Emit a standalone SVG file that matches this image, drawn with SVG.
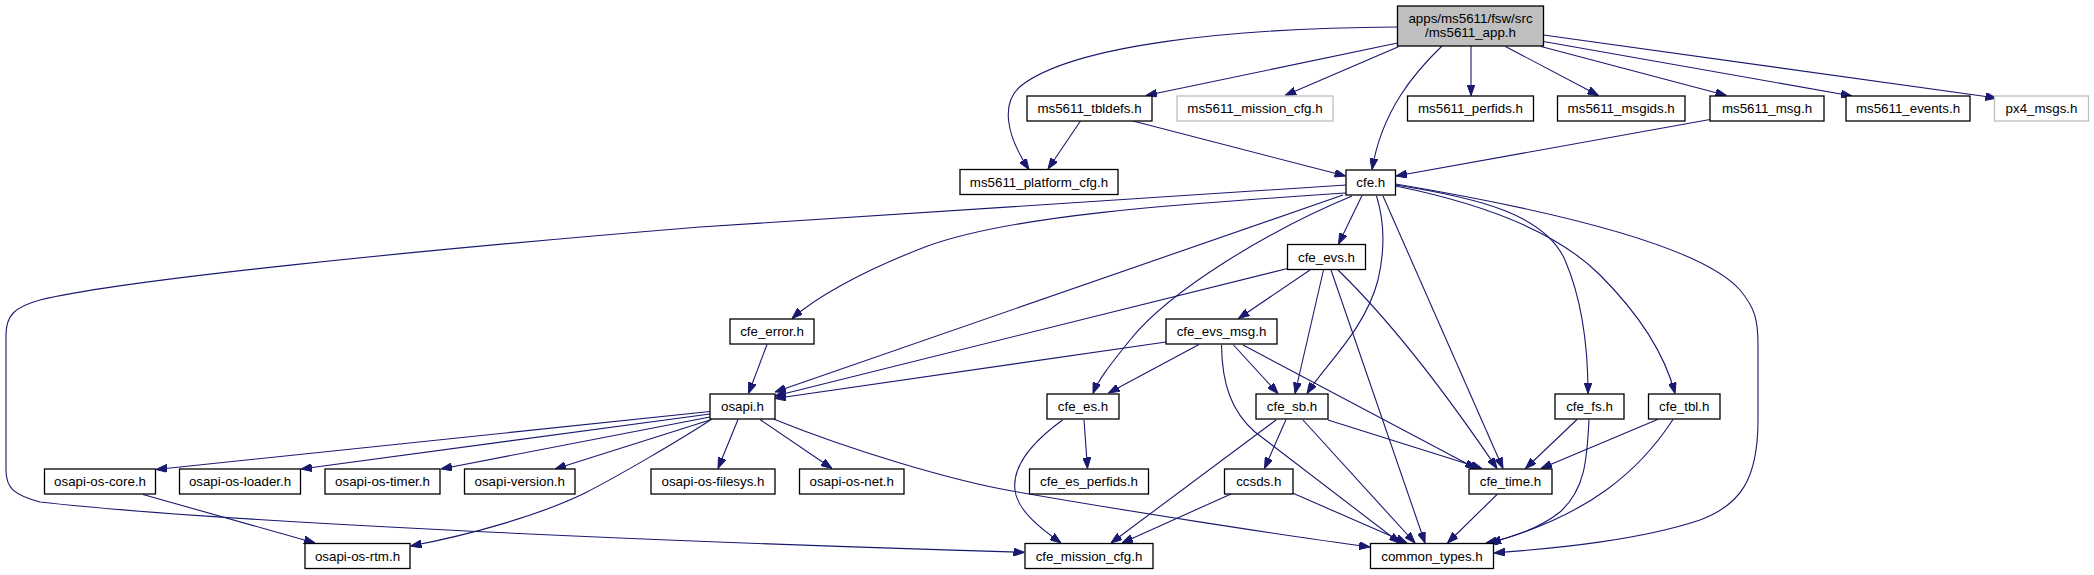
<svg xmlns="http://www.w3.org/2000/svg" width="2094" height="575" viewBox="0 0 2094 575">
<style>
.e{fill:none;stroke:#191970;stroke-width:1.1;marker-end:url(#ah)}
.n rect{fill:#fff;stroke:#000;stroke-width:1.3}
.g rect{fill:#fff;stroke:#bfbfbf;stroke-width:1.3}
.r rect{fill:#bfbfbf;stroke:#000;stroke-width:1.3}
text{font-family:"Liberation Sans",Arial,Helvetica,sans-serif;font-size:13.33px;text-anchor:middle;fill:#000}
</style>
<defs>
<marker id="ah" viewBox="0 0 11 8" refX="11" refY="4" markerWidth="11" markerHeight="8" orient="auto" markerUnits="userSpaceOnUse"><path d="M0,0 L11,4 L0,8 z" fill="#191970" stroke="#191970" stroke-width="1"/></marker>
</defs>
<rect width="2094" height="575" fill="#fff"/>
<g id="edges">
<path class="e" d="M1397.5,27 C1230,28 1075,45 1022,85 C1000,102 1006,135 1029,169.5"/>
<path class="e" d="M1397.5,43 L1146,95.5"/>
<path class="e" d="M1399,46.5 L1285,95.5"/>
<path class="e" d="M1442,46 C1415,72 1382,110 1372,169.5"/>
<path class="e" d="M1471,46 L1471,95.5"/>
<path class="e" d="M1505.5,46.5 L1598.5,95.5"/>
<path class="e" d="M1541,46.5 L1726.5,95.5"/>
<path class="e" d="M1543.5,41.5 L1852,96"/>
<path class="e" d="M1543.5,35 L1996.5,98"/>
<path class="e" d="M1080.5,121 L1048,169"/>
<path class="e" d="M1133,121 L1345.5,176"/>
<path class="e" d="M1710,119.5 L1396,176"/>
<path class="e" d="M1346,185 L700,227 C420,250 120,280 40,300 C14,307 6,316 6,335 L6,470 C6,488 14,495 40,502 C200,520 600,540 1024.5,552.3"/>
<path class="e" d="M1346,193 C1180,204 1010,215 925,247 C860,272 815,298 792,318.5"/>
<path class="e" d="M1343,195 L775,392"/>
<path class="e" d="M1362,195.5 L1338.5,244"/>
<path class="e" d="M1352,196 C1270,230 1170,290 1130,340 C1110,365 1098,380 1093,393.5"/>
<path class="e" d="M1376.5,196 C1384,220 1385,250 1378,280 C1365,330 1325,365 1307,393.5"/>
<path class="e" d="M1383,196 L1503,468.5"/>
<path class="e" d="M1395.5,185 C1480,198 1545,215 1565,260 C1580,295 1588,340 1588,393.5"/>
<path class="e" d="M1395.5,186 C1490,205 1560,235 1600,275 C1640,315 1665,355 1675,393.5"/>
<path class="e" d="M1395.5,184 C1550,210 1700,245 1740,290 C1755,308 1758,320 1758,345 L1758,420 C1758,480 1740,505 1700,520 C1640,540 1560,548 1494,553"/>
<path class="e" d="M1310,270 L1238.5,318.5"/>
<path class="e" d="M1287.5,268.5 L775,396"/>
<path class="e" d="M1323.5,270 L1295,393.5"/>
<path class="e" d="M1331,270 L1425,543"/>
<path class="e" d="M1338,270 Q1410,340 1497,468.5"/>
<path class="e" d="M1166,342 L775,398.5"/>
<path class="e" d="M1199,344.5 L1108.5,393"/>
<path class="e" d="M1233.5,345 L1278,393.5"/>
<path class="e" d="M1221.5,345 C1222,385 1232,412 1255,432 L1400,543"/>
<path class="e" d="M1243,345 L1476,468.5"/>
<path class="e" d="M1286,419.5 L1264.5,468.5"/>
<path class="e" d="M1276,420 L1111,543"/>
<path class="e" d="M1303,420 L1415,543"/>
<path class="e" d="M1328,420 L1482,468.5"/>
<path class="e" d="M1231,494 L1122,543"/>
<path class="e" d="M1292.5,493 L1407,543"/>
<path class="e" d="M1084,420 L1087.5,468.5"/>
<path class="e" d="M1062.5,420 C1035,440 1012,465 1015,490 C1017,510 1040,528 1061,543"/>
<path class="e" d="M710,411.5 L156,469.5"/>
<path class="e" d="M710,414 L301,469"/>
<path class="e" d="M710,417 L441,469"/>
<path class="e" d="M710,420 L555,469"/>
<path class="e" d="M712,419 C680,440 620,475 585,493 C540,515 470,535 410.5,546"/>
<path class="e" d="M738,419.5 L718,468.5"/>
<path class="e" d="M760,419.5 L832,468.5"/>
<path class="e" d="M773.5,419 C850,450 950,480 1012,491 C1120,510 1280,535 1370,547"/>
<path class="e" d="M143,494.5 L315,543"/>
<path class="e" d="M767,344.5 L748.5,393.5"/>
<path class="e" d="M1577,419.5 L1525.5,468.5"/>
<path class="e" d="M1589,419.5 C1587,460 1585,490 1560,512 C1540,528 1510,538 1486,543"/>
<path class="e" d="M1657.5,419.5 L1541,468.5"/>
<path class="e" d="M1673,419.5 C1640,470 1590,515 1490,543"/>
<path class="e" d="M1497,494.5 L1447.5,543"/>
</g>
<g id="n_app" class="r"><rect x="1397.5" y="6" width="146" height="40"/><text x="1470.5" y="22.5">apps/ms5611/fsw/src</text><text x="1470.5" y="37">/ms5611_app.h</text></g>
<g id="n_tbldefs" class="n"><rect x="1027" y="96" width="125" height="25"/><text x="1089.5" y="113">ms5611_tbldefs.h</text></g>
<g id="n_mission_cfg" class="g"><rect x="1177" y="96" width="156" height="25"/><text x="1255" y="113">ms5611_mission_cfg.h</text></g>
<g id="n_perfids" class="n"><rect x="1407.5" y="96" width="126" height="25"/><text x="1470.5" y="113">ms5611_perfids.h</text></g>
<g id="n_msgids" class="n"><rect x="1557.5" y="96" width="127.5" height="25"/><text x="1621.2" y="113">ms5611_msgids.h</text></g>
<g id="n_msg" class="n"><rect x="1710" y="96" width="114" height="25"/><text x="1767" y="113">ms5611_msg.h</text></g>
<g id="n_events" class="n"><rect x="1846" y="96" width="124" height="25"/><text x="1908" y="113">ms5611_events.h</text></g>
<g id="n_px4" class="g"><rect x="1994.5" y="96" width="94" height="25"/><text x="2041.5" y="113">px4_msgs.h</text></g>
<g id="n_platform" class="n"><rect x="960" y="169.5" width="158" height="25"/><text x="1039" y="186.5">ms5611_platform_cfg.h</text></g>
<g id="n_cfe" class="n"><rect x="1346" y="170" width="49.5" height="25"/><text x="1370.75" y="187">cfe.h</text></g>
<g id="n_cfe_evs" class="n"><rect x="1287.5" y="244.5" width="78" height="25"/><text x="1326.5" y="261.5">cfe_evs.h</text></g>
<g id="n_cfe_error" class="n"><rect x="730" y="319" width="84" height="25"/><text x="772" y="336">cfe_error.h</text></g>
<g id="n_cfe_evs_msg" class="n"><rect x="1166" y="319" width="111" height="25"/><text x="1221.5" y="336">cfe_evs_msg.h</text></g>
<g id="n_osapi" class="n"><rect x="710" y="394" width="65" height="25"/><text x="742.5" y="411">osapi.h</text></g>
<g id="n_cfe_es" class="n"><rect x="1047" y="394" width="72" height="25"/><text x="1083" y="411">cfe_es.h</text></g>
<g id="n_cfe_sb" class="n"><rect x="1256" y="394" width="72" height="25"/><text x="1292" y="411">cfe_sb.h</text></g>
<g id="n_cfe_fs" class="n"><rect x="1555" y="394" width="69" height="25"/><text x="1589.5" y="411">cfe_fs.h</text></g>
<g id="n_cfe_tbl" class="n"><rect x="1648.5" y="394" width="71.5" height="25"/><text x="1684.25" y="411">cfe_tbl.h</text></g>
<g id="n_os_core" class="n"><rect x="44.5" y="469" width="111" height="25"/><text x="100" y="486">osapi-os-core.h</text></g>
<g id="n_os_loader" class="n"><rect x="179.5" y="469" width="121" height="25"/><text x="240" y="486">osapi-os-loader.h</text></g>
<g id="n_os_timer" class="n"><rect x="325" y="469" width="115" height="25"/><text x="382.5" y="486">osapi-os-timer.h</text></g>
<g id="n_version" class="n"><rect x="464.5" y="469" width="110.5" height="25"/><text x="519.75" y="486">osapi-version.h</text></g>
<g id="n_os_filesys" class="n"><rect x="651" y="469" width="124" height="25"/><text x="713" y="486">osapi-os-filesys.h</text></g>
<g id="n_os_net" class="n"><rect x="799.5" y="469" width="104.5" height="25"/><text x="851.75" y="486">osapi-os-net.h</text></g>
<g id="n_es_perfids" class="n"><rect x="1029.5" y="469" width="119" height="25"/><text x="1089" y="486">cfe_es_perfids.h</text></g>
<g id="n_ccsds" class="n"><rect x="1224.5" y="469" width="68.5" height="25"/><text x="1258.75" y="486">ccsds.h</text></g>
<g id="n_cfe_time" class="n"><rect x="1469" y="469" width="83" height="25"/><text x="1510.5" y="486">cfe_time.h</text></g>
<g id="n_os_rtm" class="n"><rect x="305" y="543.5" width="105" height="25"/><text x="357.5" y="560.5">osapi-os-rtm.h</text></g>
<g id="n_mission" class="n"><rect x="1025" y="543.5" width="128" height="25"/><text x="1089" y="560.5">cfe_mission_cfg.h</text></g>
<g id="n_common" class="n"><rect x="1370.5" y="543.5" width="123" height="25"/><text x="1432" y="560.5">common_types.h</text></g>
</svg>
